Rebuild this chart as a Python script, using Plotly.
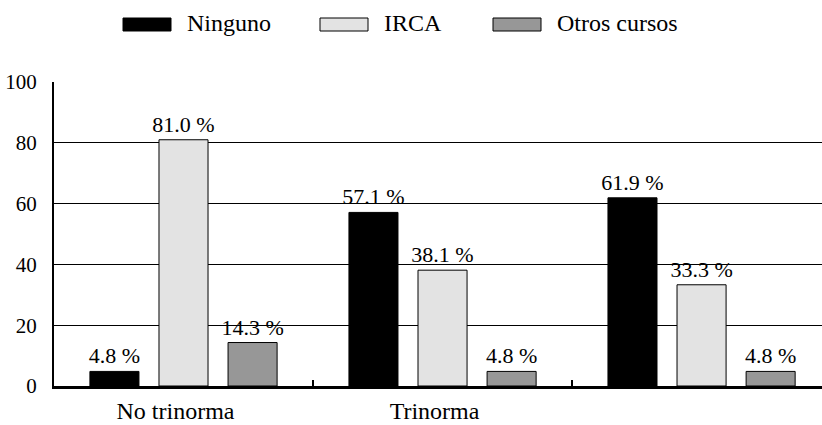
import plotly.graph_objects as go

# ---- data ----
categories = ["No trinorma", "Trinorma", "Grupo 3"]
tick_labels = ["No trinorma", "Trinorma", ""]
series_names = ["Ninguno", "IRCA", "Otros cursos"]
ninguno = [4.8, 57.1, 61.9]
irca = [81.0, 38.1, 33.3]
otros = [14.3, 4.8, 4.8]
y_ticks = [0, 20, 40, 60, 80, 100]

series_values = [ninguno, irca, otros]
colors = ["#000000", "#e3e3e3", "#979797"]

FONT = "Liberation Serif"
W, H = 822, 425
L, R, T, B = 54, 0, 82, 39

fig = go.Figure()
for name, vals, col in zip(series_names, series_values, colors):
    fig.add_trace(go.Bar(
        x=categories, y=vals, name=name,
        marker=dict(color=col, line=dict(color="#000000", width=1)),
        texttemplate="%{y:.1f} %", textposition="outside",
        textfont=dict(family=FONT, size=22, color="#000000"),
        constraintext="none", cliponaxis=False, showlegend=False,
    ))

# custom legend (wide swatches)
plot_w = W - L - R
plot_h = H - T - B
def px_x(p):
    return (p - L) / plot_w
def px_y(p):
    return (H - B - p) / plot_h

legend_swatch_x = [123, 320, 493]
for name, col, sx in zip(series_names, colors, legend_swatch_x):
    fig.add_shape(type="rect", xref="paper", yref="paper",
                  x0=px_x(sx), x1=px_x(sx + 48), y0=px_y(31), y1=px_y(18),
                  fillcolor=col, line=dict(color="#000000", width=1))
    fig.add_annotation(xref="paper", yref="paper", x=px_x(sx + 62), y=px_y(23),
                       xanchor="left", yanchor="middle", showarrow=False,
                       text=name, font=dict(family=FONT, size=24, color="#000000"))

fig.update_layout(
    width=W, height=H,
    margin=dict(l=L, r=R, t=T, b=B, pad=0),
    paper_bgcolor="white", plot_bgcolor="white",
    barmode="group", bargap=0.2, bargroupgap=0.29,
    font=dict(family=FONT, color="#000000"),
    showlegend=False,
)
fig.update_xaxes(
    type="category", range=[-0.5, 2.465], automargin=False,
    tickmode="array", tickvals=categories, ticktext=tick_labels,
    tickson="boundaries", ticks="inside", ticklen=6, tickwidth=2, tickcolor="#000000",
    showline=True, linecolor="#000000", linewidth=2.5,
    showgrid=False, ticklabelshift=-8, ticklabelstandoff=1,
    tickfont=dict(family=FONT, size=24, color="#000000"),
)
fig.update_yaxes(
    range=[0, 100], tickvals=y_ticks, automargin=False,
    showgrid=True, gridcolor="#000000", gridwidth=1,
    showline=True, linecolor="#000000", linewidth=2,
    zeroline=False, ticks="", ticklabelstandoff=11,
    tickfont=dict(family=FONT, size=21, color="#000000"),
)

fig.write_html("out.html", config={"displayModeBar": False},
               post_script="document.body.style.margin='0px';")
